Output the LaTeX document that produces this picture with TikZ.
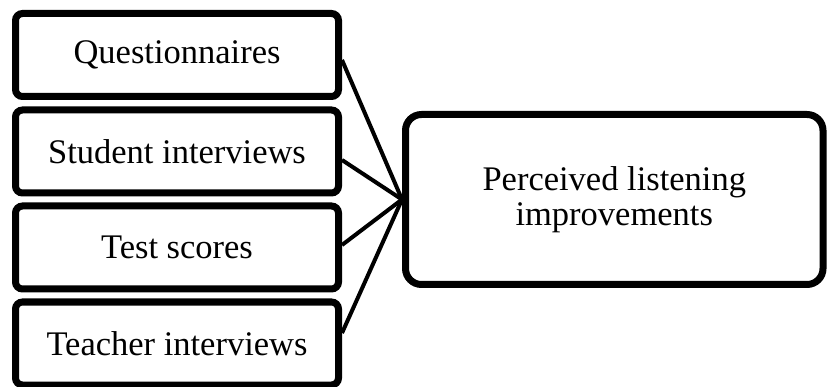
\documentclass[tikz,border=0pt]{standalone}
\usepackage{fontspec}
\setmainfont{Liberation Serif}
\usetikzlibrary{shadows}
\begin{document}
\begin{tikzpicture}[x=1pt,y=-1pt,
  srcbox/.style={draw=black, line width=7pt, rounded corners=7pt, fill=white,
    minimum width=323pt, minimum height=83pt, inner sep=0pt,
    font=\fontsize{34.5}{38}\selectfont,
    drop shadow={opacity=0.18, shadow xshift=2pt, shadow yshift=-2pt}},
  tgtbox/.style={draw=black, line width=7pt, rounded corners=16pt, fill=white,
    minimum width=417.5pt, minimum height=170pt, inner sep=0pt, align=center,
    font=\fontsize{34.5}{35}\selectfont,
    drop shadow={opacity=0.18, shadow xshift=2pt, shadow yshift=-2pt}},
  link/.style={draw=black, line width=4pt}]
\useasboundingbox (0,0) rectangle (827,387);
\node[srcbox] (q) at (177,55) {Questionnaires};
\node[srcbox] (s) at (177,151.5) {Student interviews};
\node[srcbox] (t) at (177,247.5) {Test scores};
\node[srcbox] (i) at (177,343.5) {Teacher interviews};
\node[tgtbox] (p) at (614.25,199.5) {Perceived listening\\improvements};
\coordinate (c) at (p.west);
\draw[link] ([yshift=-5pt]q.east) -- (c);
\draw[link] ([yshift=-8.5pt]s.east) -- (c);
\draw[link] ([yshift=2.5pt]t.east) -- (c);
\draw[link] ([yshift=10.5pt]i.east) -- (c);
\end{tikzpicture}
\end{document}
